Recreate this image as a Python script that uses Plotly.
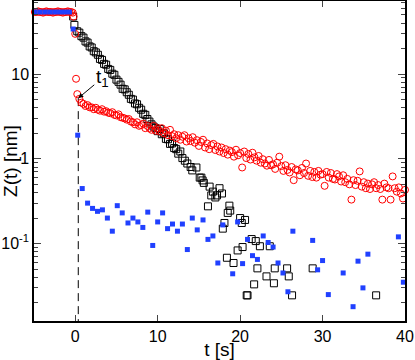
import numpy as np
import plotly.graph_objects as go

# black open squares (fast decay)
t_black = [-0.25, -0.1,
           0.25, 0.5, 0.75, 1.0, 1.25, 1.5, 1.75, 2.0, 2.25, 2.5, 2.75, 3.0, 3.25, 3.5, 3.75,
           4.0, 4.25, 4.5, 4.75, 5.0, 5.25, 5.5, 5.75, 6.0, 6.25, 6.5, 6.75, 7.0, 7.25, 7.5, 7.75,
           8.0, 8.25, 8.5, 8.75, 9.0, 9.25, 9.5, 9.75, 10.0, 10.25, 10.5, 10.75, 11.0, 11.25, 11.5,
           11.75, 12.0, 12.25, 12.5, 12.75, 13.0,
           13.3, 13.6, 14.0, 14.2, 14.7, 15.1, 15.3, 15.45, 15.6, 16.1, 16.3, 16.5, 16.7, 17.0, 17.2,
           17.5, 17.8, 17.9, 18.1, 18.4, 18.5, 18.7, 18.8, 19.2, 19.7, 20.0, 20.2, 20.3, 20.6, 20.8,
           20.9, 21.4, 21.7, 21.9, 22.1, 22.4, 23.2, 23.6, 24.1, 24.2, 25.7, 25.9, 26.3, 28.8, 36.5]
z_black = [47.7, 38.0,
           32.0, 30.8, 28.0, 26.9, 24.3, 23.5, 21.2, 20.6, 18.6, 18.0, 16.9, 15.1, 14.7, 13.2, 12.9,
           11.5, 11.2, 10.1, 9.8, 8.6, 8.1, 7.5, 6.7, 6.6, 6.1, 5.7, 5.1, 5.0, 4.5, 4.4, 4.0,
           3.8, 3.4, 3.3, 2.95, 2.75, 2.55, 2.40, 2.30, 2.12, 2.25, 1.95, 2.0, 1.72, 1.70, 1.50,
           1.52, 1.34, 1.30, 1.15, 1.22, 1.02,
           0.95, 0.88, 0.80, 0.73, 0.79, 0.60, 0.60, 0.556, 0.52, 0.275, 0.47, 0.37, 0.41, 0.35, 0.37,
           0.45, 0.39, 0.15, 0.175, 0.068, 0.23, 0.28, 0.245, 0.059, 0.083, 0.20, 0.175, 0.091, 0.19, 0.0245,
           0.0245, 0.113, 0.033, 0.107, 0.051, 0.093, 0.041, 0.093, 0.034, 0.051, 0.051, 0.041, 0.0245, 0.051, 0.0245]

# red open circles (slow decay)
t_red = [-4.9, -4.7, -4.5, -4.3, -4.1, -3.9, -3.7, -3.5, -3.3, -3.1, -2.9, -2.7, -2.5, -2.3,
         -2.1, -1.9, -1.7, -1.5, -1.3, -1.1, -0.9, -0.7, -0.5, -0.3, -0.2, 0.0, 0.1, 0.25,
         0.5, 0.75, 1.0, 1.25, 1.5, 1.75, 2.0, 2.25, 2.5, 2.75, 3.0, 3.25, 3.5, 3.75,
         4.0, 4.25, 4.5, 4.75, 5.0, 5.25, 5.5, 5.75, 6.0, 6.25, 6.5, 6.75, 7.0, 7.25, 7.5, 7.75,
         8.0, 8.25, 8.5, 8.75, 9.0, 9.25, 9.5, 9.75, 10.0, 10.25, 10.5, 10.75, 11.0, 11.25, 11.5, 11.75,
         12.0, 12.25, 12.5, 12.75, 13.0, 13.25, 13.5, 13.75, 14.0, 14.25, 14.5, 14.75,
         15.0, 15.25, 15.5, 15.75, 16.0, 16.25, 16.5, 16.75, 17.0, 17.25, 17.5, 17.75,
         18.0, 18.25, 18.5, 18.75, 19.0, 19.25, 19.5, 19.75, 20.0, 20.25, 20.5, 20.75,
         21.0, 21.25, 21.5, 21.75, 22.0, 22.25, 22.5, 22.75, 23.0, 23.25, 23.5, 23.75,
         24.0, 24.25, 24.5, 24.75, 25.0, 25.25, 25.5, 25.75, 26.0, 26.25, 26.5, 26.75,
         27.0, 27.25, 27.5, 27.75, 28.0, 28.25, 28.5, 28.75, 29.0, 29.25, 29.5, 29.75,
         30.0, 30.25, 30.5, 30.75, 31.0, 31.25, 31.5, 31.75, 32.0, 32.25, 32.5, 32.75,
         33.0, 33.25, 33.5, 33.75, 34.0, 34.25, 34.5, 34.75, 35.0, 35.25, 35.5, 35.75,
         36.0, 36.25, 36.5, 36.75, 37.0, 37.25, 37.5, 37.75, 38.0, 38.25, 38.5, 38.75,
         39.0, 39.25, 39.5, 39.75, 40.0]
z_red = [54, 54, 55, 54, 54, 53, 54, 55, 54, 54, 54, 53, 54, 54,
         55, 54, 54, 53, 54, 54, 55, 54, 54, 53, 47.7, 29.8, 8.8, 5.8,
         5.1, 4.6, 4.45, 4.2, 4.3, 4.05, 4.05, 3.85, 4.0, 3.8, 3.7, 3.85, 3.6, 3.65,
         3.5, 3.45, 3.55, 3.3, 3.25, 3.35, 3.1, 3.05, 3.0, 2.9, 2.95, 2.75, 2.7, 2.55, 2.7, 2.45,
         2.5, 2.6, 2.3, 2.45, 2.3, 2.2, 2.45, 2.15, 2.3, 2.1, 2.3, 2.0, 2.15, 1.9, 2.2, 1.85,
         1.95, 1.75, 1.9, 1.68, 1.82, 1.9, 1.6, 1.75, 1.62, 1.8, 1.55, 1.66,
         1.42, 1.58, 1.68, 1.36, 1.52, 1.3, 1.45, 1.5, 1.27, 1.4, 1.22, 1.36,
         1.17, 1.3, 1.12, 1.25, 1.2, 1.06, 1.28, 1.1, 1.17, 0.79, 1.22, 1.02,
         1.14, 0.98, 1.18, 1.04, 0.95, 1.08, 0.9, 0.99, 0.88, 0.83, 0.97, 0.84,
         0.86, 0.76, 0.9, 1.06, 0.82, 0.72, 0.84, 0.74, 0.69, 0.8, 0.56, 0.75,
         0.73, 0.64, 0.78, 0.68, 0.88, 0.63, 0.72, 0.61, 0.7, 0.6, 0.72, 0.65,
         0.66, 0.48, 0.7, 0.6, 0.68, 0.58, 0.57, 0.66, 0.62, 0.54, 0.64, 0.53,
         0.58, 0.5, 0.33, 0.56, 0.49, 0.55, 0.71, 0.47, 0.53, 0.45, 0.51, 0.44,
         0.5, 0.53, 0.45, 0.49, 0.44, 0.33, 0.51, 0.46, 0.45, 0.33, 0.62, 0.45,
         0.41, 0.46, 0.39, 0.34, 0.43]

# blue filled squares
t_blue = [-4.9, -4.3, -3.7, -3.1, -2.5, -1.9, -1.3, -0.7, -0.25, 0.3,
          0.85, 1.5, 2.1, 2.7, 3.3, 3.9, 4.5, 5.1, 5.7, 6.4, 7.0, 7.6, 8.2, 8.8, 9.4, 10.0,
          10.6, 11.2, 11.8, 12.4, 13.0, 13.6, 14.2, 14.8, 15.5, 16.1, 16.7, 17.3, 17.9, 19.1,
          19.7, 20.3, 20.9, 21.5, 22.1, 22.8, 23.4, 24.0, 24.6, 25.2, 25.8, 26.4, 28.8, 29.4,
          30.0, 30.7, 32.5, 33.7, 34.3, 34.9, 35.5, 39.2, 39.8]
z_blue = [54, 54, 54, 54, 54, 54, 54, 54, 34, 1.9,
          0.446, 0.30, 0.26, 0.24, 0.25, 0.20, 0.14, 0.28, 0.23, 0.175, 0.20, 0.18, 0.155, 0.235, 0.095, 0.18,
          0.23, 0.15, 0.17, 0.14, 0.17, 0.085, 0.20, 0.145, 0.19, 0.112, 0.123, 0.059, 0.166, 0.044,
          0.18, 0.058, 0.112, 0.072, 0.065, 0.123, 0.103, 0.091, 0.059, 0.045, 0.027, 0.14, 0.109, 0.049,
          0.063, 0.025, 0.045, 0.018, 0.062, 0.030, 0.075, 0.12, 0.035]

t1 = 0.37
z_t1 = 5.2
x_ticks = [0, 10, 20, 30, 40]
y_ticks = [0.1, 1, 10]
y_ticktext = ["10<sup>-1</sup>", "1", "10"]
y_range = [0.0122, 72.8]

minor_vals = [m * 10.0 ** e for e in [-2, -1, 0, 1] for m in range(2, 10)]

fig = go.Figure()
fig.add_trace(go.Scatter(x=[t1, t1], y=[z_t1, y_range[0]], mode="lines",
                         line=dict(color="black", width=1, dash="8px,5px")))
fig.add_trace(go.Scatter(x=t_black, y=z_black, mode="markers", cliponaxis=False,
                         marker=dict(symbol="square-open", size=7, color="black",
                                     line=dict(width=1))))
fig.add_trace(go.Scatter(x=t_red, y=z_red, mode="markers", cliponaxis=False,
                         marker=dict(symbol="circle-open", size=7, color="red",
                                     line=dict(width=1))))
fig.add_trace(go.Scatter(x=t_blue, y=z_blue, mode="markers", cliponaxis=False,
                         marker=dict(symbol="square", size=5, color="#2040ff")))

fig.add_annotation(x=t1, y=np.log10(z_t1), text="t<sub>1</sub>", showarrow=True,
                   arrowhead=2, arrowsize=1, arrowwidth=1, arrowcolor="black",
                   ax=24, ay=-20, font=dict(size=19, color="black"))

fig.update_layout(
    width=415, height=360,
    margin=dict(l=34, r=10, t=1, b=39),
    paper_bgcolor="white", plot_bgcolor="white",
    showlegend=False,
    font=dict(family="Liberation Sans, Arial, sans-serif", size=16, color="black"),
)
fig.update_xaxes(range=[-5, 40], tickvals=x_ticks, ticks="inside", ticklen=6,
                 showline=True, linecolor="black", linewidth=1.5, mirror="ticks",
                 showgrid=False, zeroline=False, automargin=False,
                 title=dict(text="t [s]", standoff=0))
fig.update_yaxes(type="log", range=[np.log10(y_range[0]), np.log10(y_range[1])],
                 tickvals=y_ticks, ticktext=y_ticktext, ticks="inside", ticklen=7,
                 minor=dict(tickmode="array", tickvals=minor_vals, ticks="inside", ticklen=4,
                            showgrid=False),
                 showline=True, linecolor="black", linewidth=1.5, mirror="ticks",
                 showgrid=False, zeroline=False, automargin=False,
                 title=dict(text="Z(t) [nm]", standoff=0))

# the page body has a default 8px margin; drop it so the figure sits at the corner
fig.write_html("out.html", config={"displayModeBar": False},
               post_script="document.body.style.margin='0px';")
